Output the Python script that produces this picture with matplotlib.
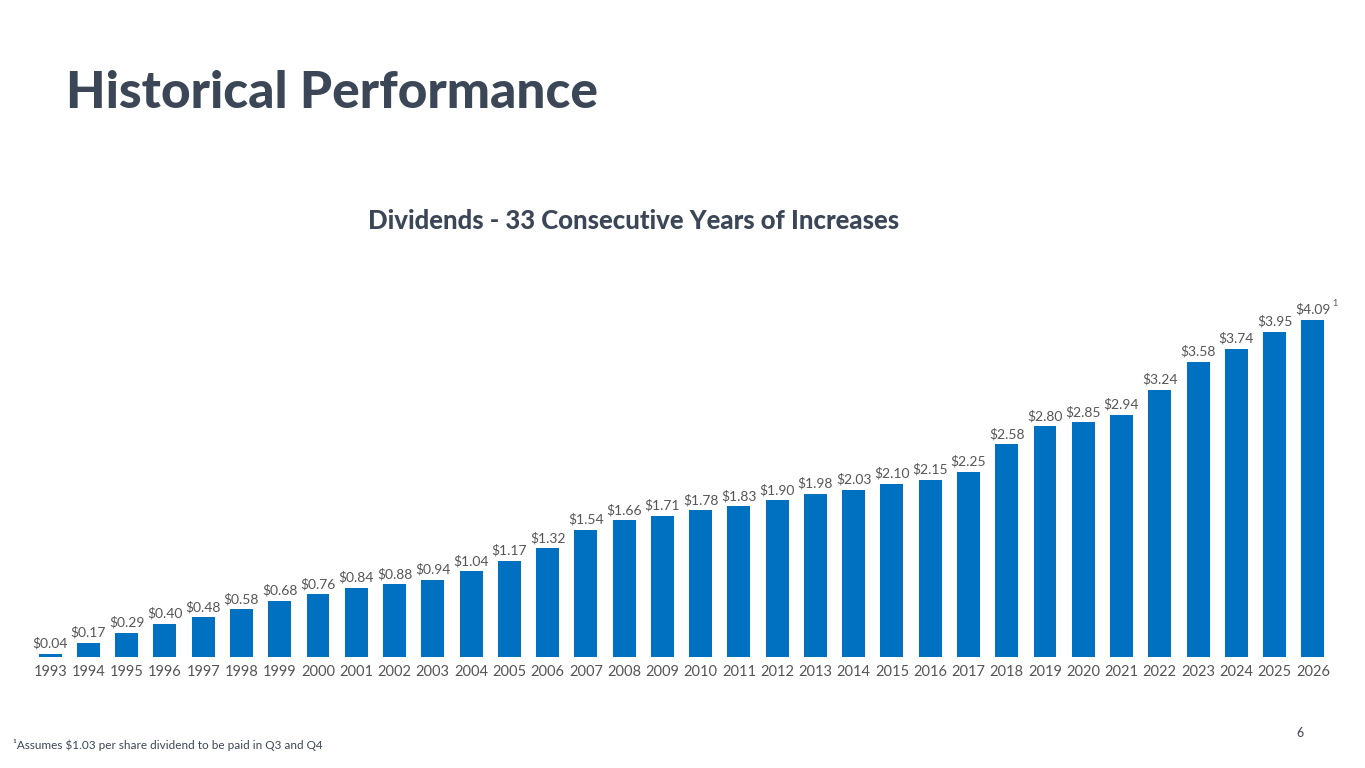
import matplotlib
matplotlib.use("Agg")
import matplotlib.pyplot as plt

years = [str(y) for y in range(1993, 2027)]
dividends = [0.04,0.17,0.29,0.40,0.48,0.58,0.68,0.76,0.84,0.88,0.94,1.04,1.17,1.32,1.54,1.66,1.71,1.78,1.83,1.90,1.98,2.03,2.10,2.15,2.25,2.58,2.80,2.85,2.94,3.24,3.58,3.74,3.95,4.09]

W, H = 1365, 768
fig = plt.figure(figsize=(W/100, H/100), dpi=100)
fig.patch.set_facecolor("white")
plt.rcParams['font.family'] = ['Lato', 'DejaVu Sans']

ymax = 4.6
left, right = 31, 1332
bottom = 657
top = bottom - ymax * 82.4
ax = fig.add_axes([left/W, 1-bottom/H, (right-left)/W, (bottom-top)/H])
x = list(range(len(years)))
ax.bar(x, dividends, width=0.6, color="#0070c0")
ax.set_xlim(-0.5, len(years)-0.5)
ax.set_ylim(0, ymax)
for xi, v in zip(x, dividends):
    ax.text(xi, v + 0.05, f"${v:.2f}", ha="center", va="bottom", fontsize=10, color="#555555")
ax.text(x[-1] + 0.5, dividends[-1] + 0.15, "1", fontsize=6.5, color="#555555", ha="left", va="bottom")
ax.set_xticks(x)
ax.set_xticklabels(years, fontsize=10.5, color="#555555")
ax.tick_params(axis="x", length=0, pad=6)
ax.set_yticks([])
for s in ax.spines.values():
    s.set_visible(False)

fig.text(66/W, 1-94/H, "Historical Performance", fontsize=37, fontweight="black", color="#3b4656", va="center", ha="left")
fig.text(634/W, 1-221/H, "Dividends - 33 Consecutive Years of Increases", fontsize=18.5, fontweight="black", color="#3b4656", va="center", ha="center")
fig.text(13/W, 1-745/H, "\u00b9Assumes $1.03 per share dividend to be paid in Q3 and Q4", fontsize=8.5, color="#3b4656", va="center", ha="left")
fig.text(1304/W, 1-733/H, "6", fontsize=9, color="#3b4656", va="center", ha="right")

fig.savefig("out.png", dpi=100)
